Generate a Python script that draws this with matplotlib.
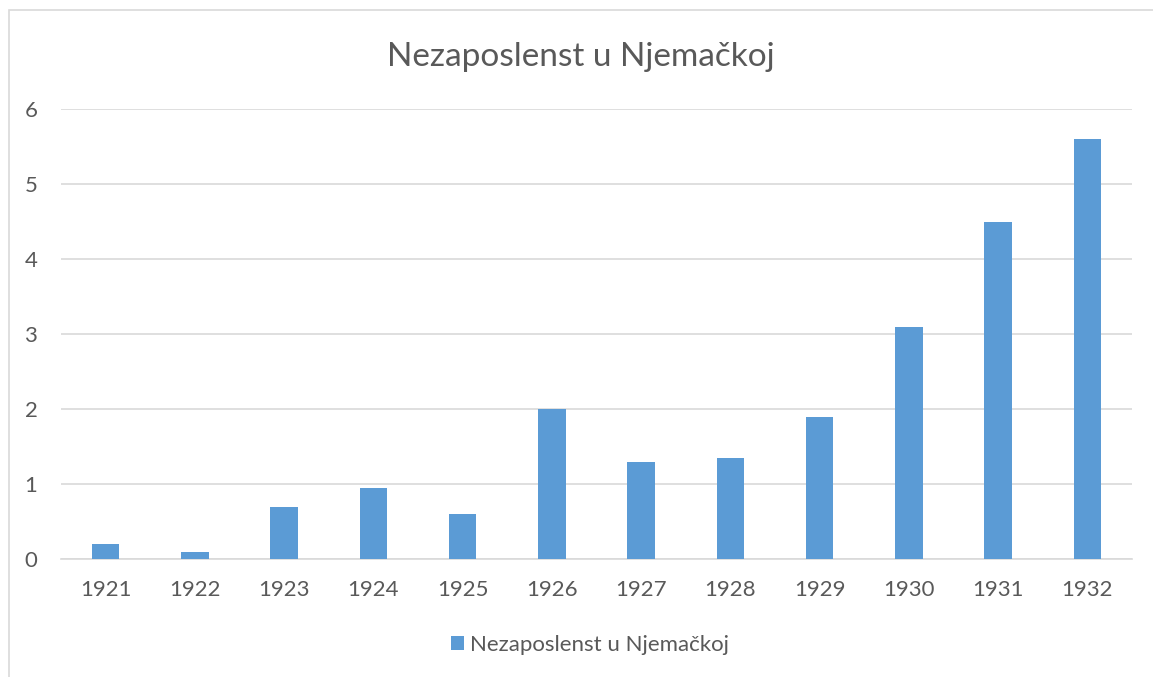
import matplotlib
matplotlib.use("Agg")
import matplotlib.pyplot as plt
from matplotlib.patches import Rectangle

years = ["1921", "1922", "1923", "1924", "1925", "1926", "1927", "1928", "1929", "1930", "1931", "1932"]
values = [0.2, 0.1, 0.7, 0.95, 0.6, 2.0, 1.3, 1.35, 1.9, 3.1, 4.5, 5.6]
series_name = "Nezaposlenst u Njemačkoj"
title = "Nezaposlenst u Njemačkoj"
yticks = [0, 1, 2, 3, 4, 5, 6]

W, H = 1153, 677
plt.rcParams['font.family'] = ['Lato', 'DejaVu Sans']
fig = plt.figure(figsize=(W / 100, H / 100), dpi=100)
txt = "#595959"
bar_c = "#5B9BD5"

# outer chart border
fig.patches.append(Rectangle((9 / W, -0.1), 2, 1.1 - 10 / H, transform=fig.transFigure,
                             fill=False, edgecolor="#D9D9D9", linewidth=1.2))

left, right, top, bottom = 61, 1132, 109, 559
ax = fig.add_axes([left / W, 1 - bottom / H, (right - left) / W, (bottom - top) / H])
x = list(range(len(years)))
ax.bar(x, values, width=0.31, color=bar_c, zorder=3, label=series_name)
ax.set_xlim(-0.5, len(years) - 0.5)
ax.set_ylim(0, 6)
ax.set_yticks(yticks)
ax.set_yticklabels([str(v) for v in yticks])
ax.set_xticks(x)
ax.set_xticklabels(years)
for s in ["top", "right", "left"]:
    ax.spines[s].set_visible(False)
ax.spines["bottom"].set_color("#D9D9D9")
ax.spines["bottom"].set_linewidth(1.2)
ax.grid(axis="y", color="#D9D9D9", linewidth=1.2, zorder=0)
ax.tick_params(axis="both", length=0, labelsize=16, labelcolor=txt)
ax.tick_params(axis="x", pad=15)
ax.tick_params(axis="y", pad=17)

fig.text(581 / W, 1 - 57 / H, title, ha="center", va="center", fontsize=24, color=txt)

leg = fig.legend(loc="center", bbox_to_anchor=(590 / W, 1 - 645 / H), frameon=False,
                 fontsize=16, handlelength=0.6, handleheight=0.6, handletextpad=0.25)
for t in leg.get_texts():
    t.set_color(txt)

fig.savefig("out.png", dpi=100)
